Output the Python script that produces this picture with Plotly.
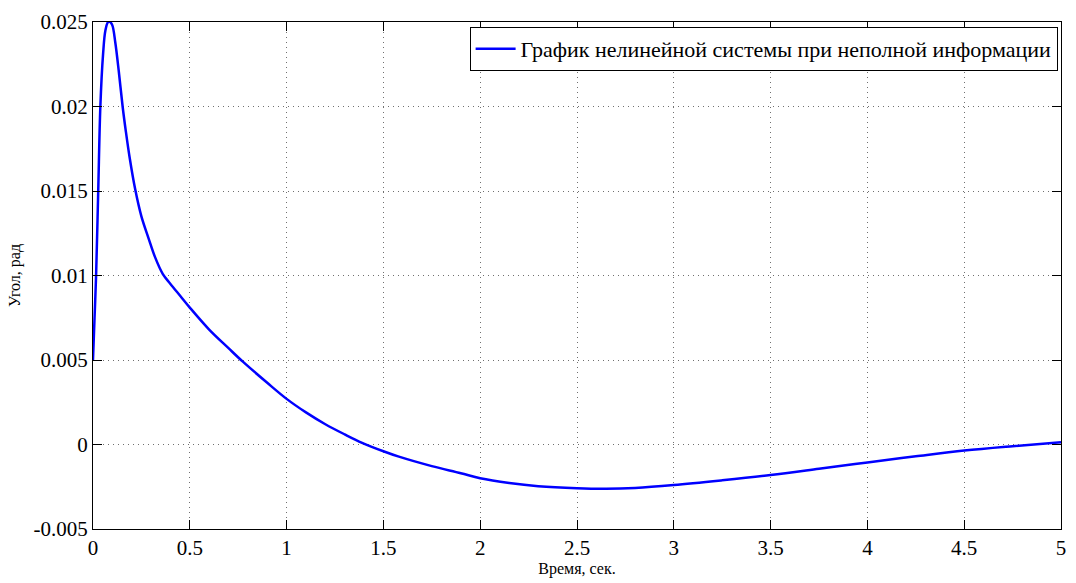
import plotly.graph_objects as go

t_values = [0.0, 0.008, 0.016, 0.027, 0.038, 0.052, 0.064, 0.078, 0.088, 0.100,
            0.115, 0.133, 0.153, 0.170, 0.189, 0.218, 0.25, 0.287, 0.32, 0.36,
            0.40, 0.45, 0.5, 0.6, 0.7, 0.774, 0.9, 1.0, 1.1, 1.2,
            1.3, 1.39, 1.5, 1.58, 1.75, 1.9, 2.0, 2.15, 2.3, 2.5,
            2.65, 2.8, 3.0, 3.25, 3.5, 3.75, 4.0, 4.25, 4.5, 4.75, 5.0]
angle_values = [0.0050, 0.0075, 0.0100, 0.0150, 0.0200, 0.0231, 0.0245, 0.0250, 0.0250, 0.0248,
                0.0238, 0.0221, 0.0200, 0.0185, 0.0170, 0.0151, 0.0135, 0.0122, 0.0111, 0.0101,
                0.0095, 0.0088, 0.0081, 0.0068, 0.0057, 0.0049, 0.00365, 0.0027, 0.0019, 0.0012,
                0.0006, 0.0001, -0.0004, -0.00072, -0.00128, -0.0017, -0.0020, -0.00228, -0.00247, -0.00259,
                -0.00262, -0.00257, -0.0024, -0.00212, -0.00181, -0.00144, -0.00106, -0.0007, -0.00036, -0.0001, 0.00013]

x_ticks = [0, 0.5, 1, 1.5, 2, 2.5, 3, 3.5, 4, 4.5, 5]
x_tick_labels = ["0", "0.5", "1", "1.5", "2", "2.5", "3", "3.5", "4", "4.5", "5"]
y_ticks = [-0.005, 0, 0.005, 0.01, 0.015, 0.02, 0.025]
y_tick_labels = ["-0.005", "0", "0.005", "0.01", "0.015", "0.02", "0.025"]

series_name = "График нелинейной системы при неполной информации"

fig = go.Figure()
fig.add_trace(go.Scatter(
    x=t_values, y=angle_values, mode="lines", name=series_name,
    line=dict(color="#0000ff", width=2.5, shape="spline", smoothing=1.0),
))

font_family = "Liberation Serif"
axis_common = dict(
    showline=True, linecolor="black", linewidth=1, mirror="ticks",
    ticks="inside", ticklen=9, tickcolor="black",
    showgrid=True, gridcolor="#707070", griddash="1px,4px", gridwidth=1,
    zeroline=False, tickfont=dict(family=font_family, size=21, color="black"),
)

fig.update_layout(
    width=1076, height=583,
    margin=dict(l=93, r=10, t=17, b=53),
    paper_bgcolor="white", plot_bgcolor="white",
    font=dict(family=font_family, color="black"),
    showlegend=True,
    legend=dict(
        x=0.9965, xanchor="right", y=0.99, yanchor="top",
        bgcolor="white", bordercolor="black", borderwidth=1,
        font=dict(family=font_family, size=22, color="black"),
        itemwidth=40, tracegroupgap=0,
    ),
    xaxis=dict(
        range=[0, 5], tickvals=x_ticks, ticktext=x_tick_labels,
        title=dict(text="Время, сек.", font=dict(family=font_family, size=16), standoff=2),
        **axis_common,
    ),
    yaxis=dict(
        range=[-0.005, 0.025], tickvals=y_ticks, ticktext=y_tick_labels,
        title=dict(text="Угол, рад", font=dict(family=font_family, size=16), standoff=8),
        **axis_common,
    ),
)

fig.write_html("out.html")
